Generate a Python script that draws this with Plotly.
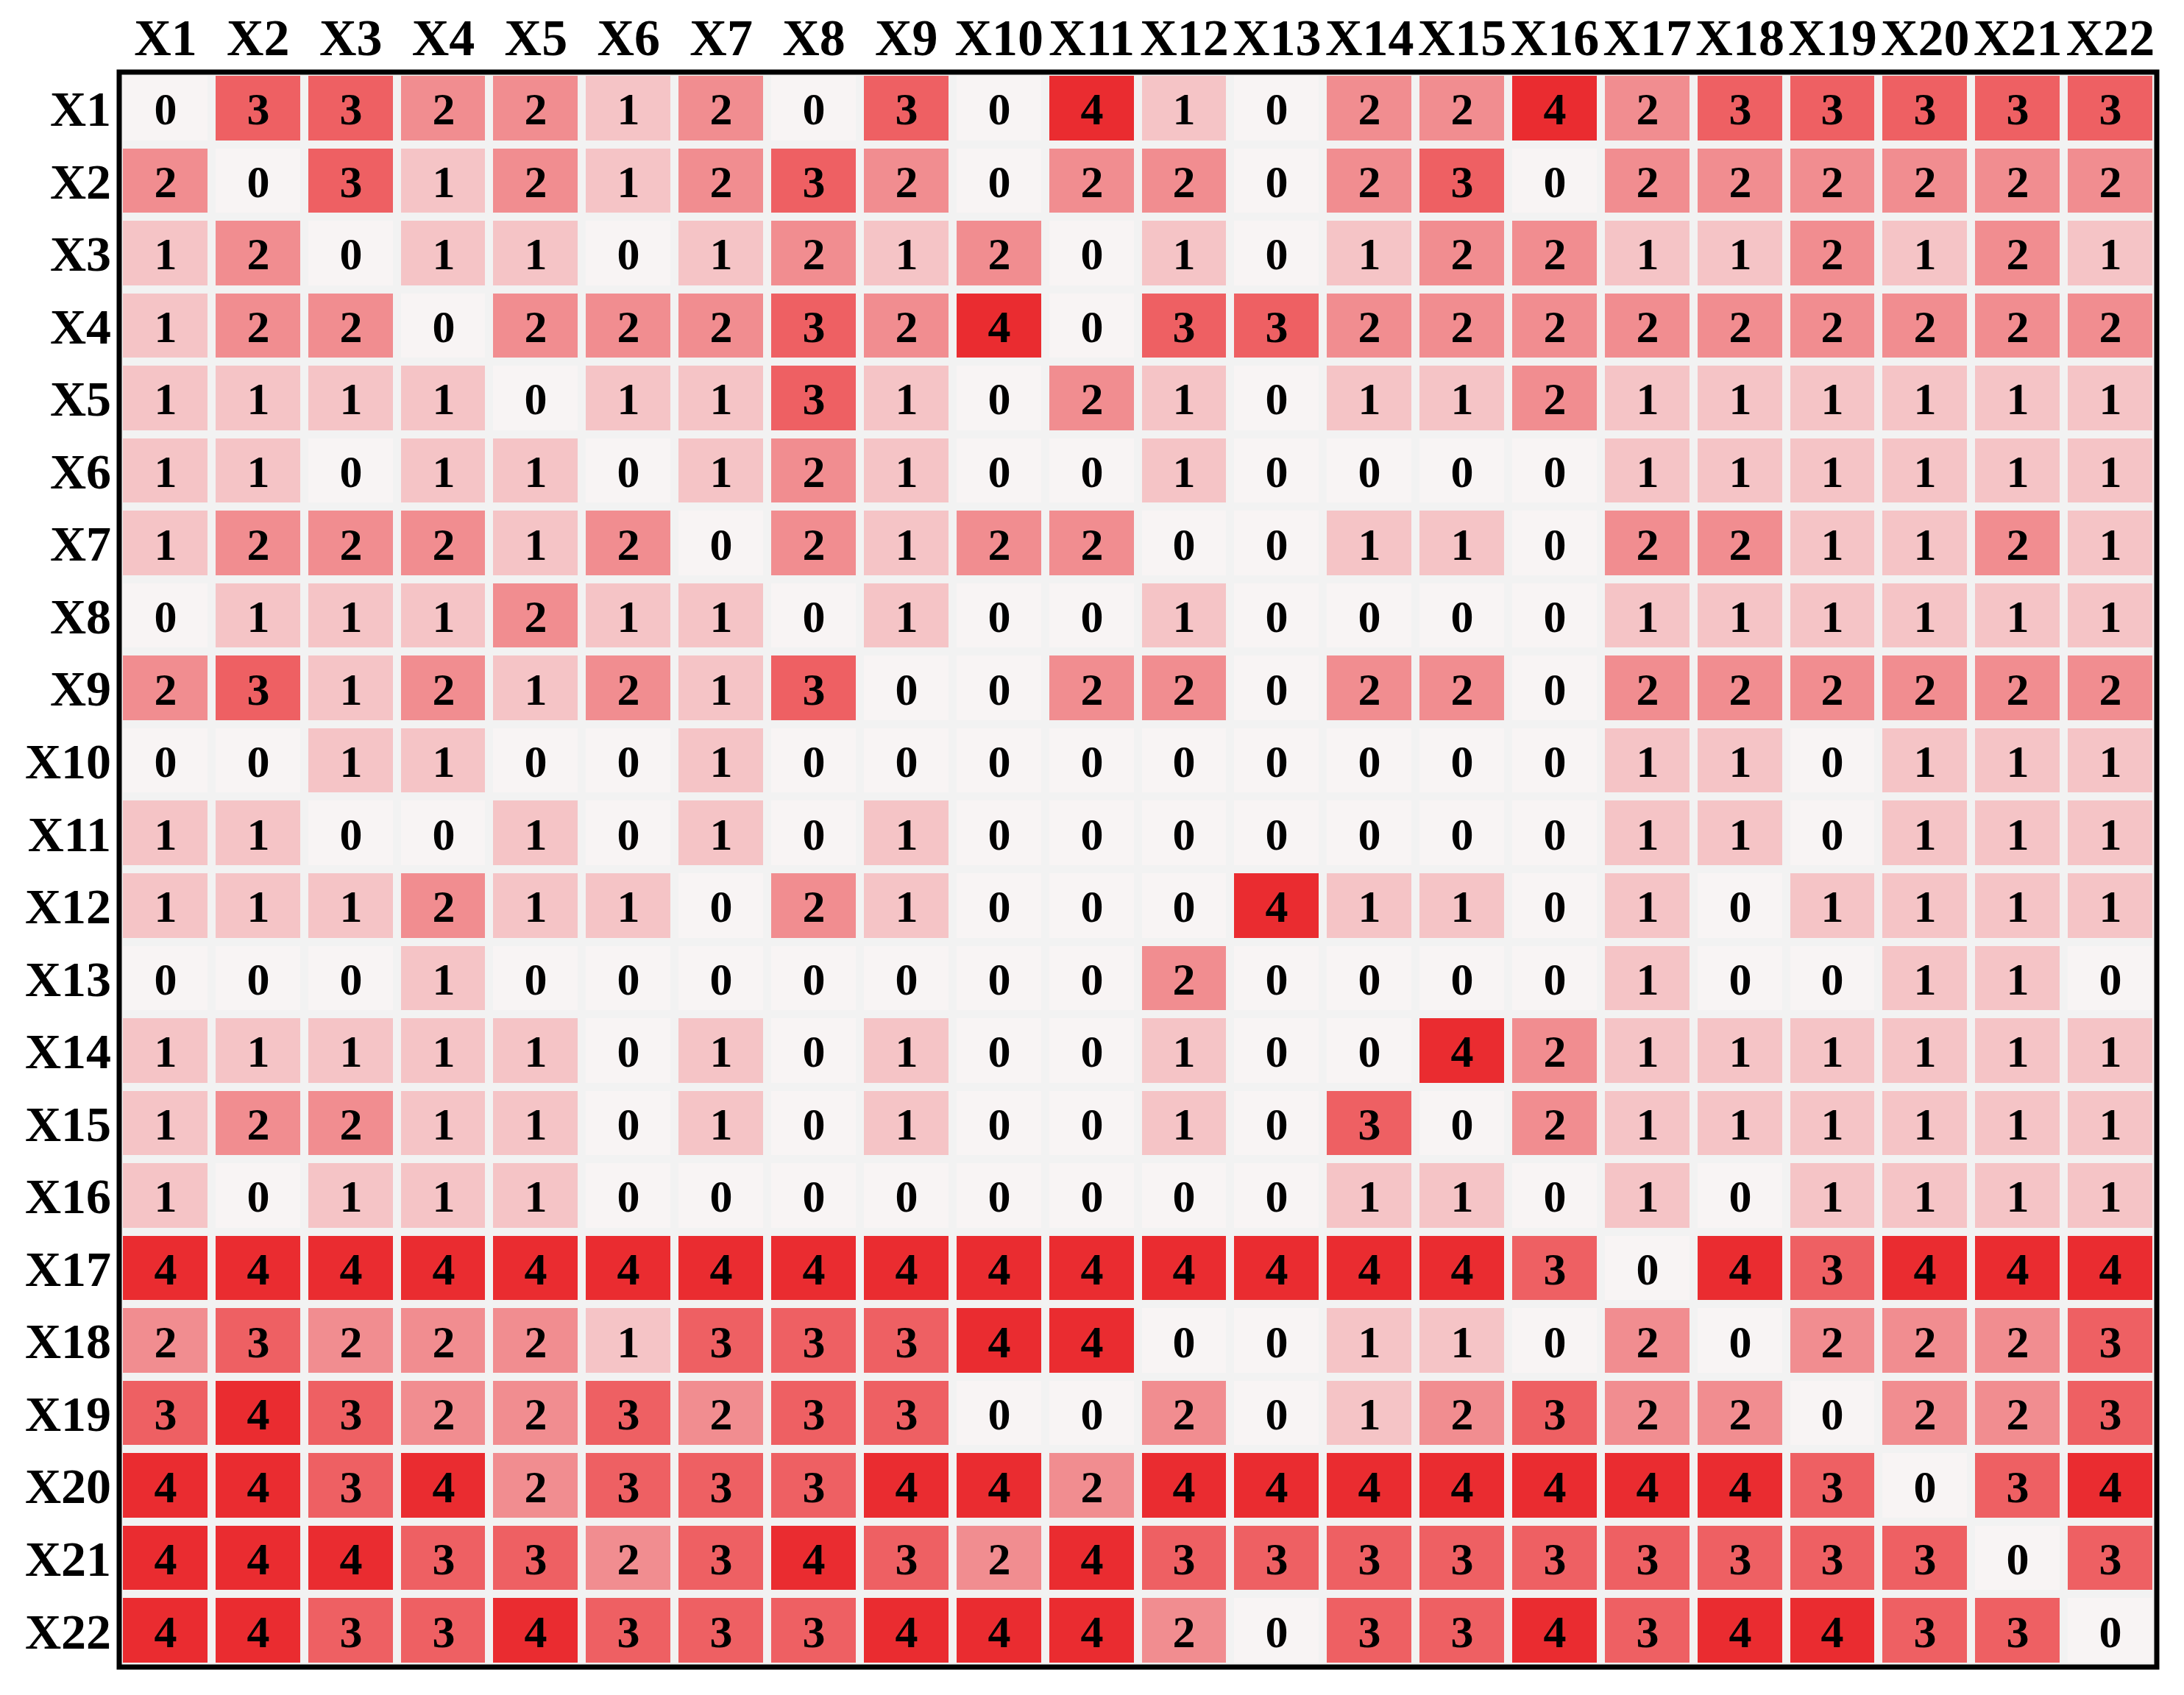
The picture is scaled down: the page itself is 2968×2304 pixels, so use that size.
import plotly.graph_objects as go

labels = ["X%d" % i for i in range(1, 23)]

# influence matrix, rows = X1..X22, columns = X1..X22
row_x1 = [0, 3, 3, 2, 2, 1, 2, 0, 3, 0, 4, 1, 0, 2, 2, 4, 2, 3, 3, 3, 3, 3]
row_x2 = [2, 0, 3, 1, 2, 1, 2, 3, 2, 0, 2, 2, 0, 2, 3, 0, 2, 2, 2, 2, 2, 2]
row_x3 = [1, 2, 0, 1, 1, 0, 1, 2, 1, 2, 0, 1, 0, 1, 2, 2, 1, 1, 2, 1, 2, 1]
row_x4 = [1, 2, 2, 0, 2, 2, 2, 3, 2, 4, 0, 3, 3, 2, 2, 2, 2, 2, 2, 2, 2, 2]
row_x5 = [1, 1, 1, 1, 0, 1, 1, 3, 1, 0, 2, 1, 0, 1, 1, 2, 1, 1, 1, 1, 1, 1]
row_x6 = [1, 1, 0, 1, 1, 0, 1, 2, 1, 0, 0, 1, 0, 0, 0, 0, 1, 1, 1, 1, 1, 1]
row_x7 = [1, 2, 2, 2, 1, 2, 0, 2, 1, 2, 2, 0, 0, 1, 1, 0, 2, 2, 1, 1, 2, 1]
row_x8 = [0, 1, 1, 1, 2, 1, 1, 0, 1, 0, 0, 1, 0, 0, 0, 0, 1, 1, 1, 1, 1, 1]
row_x9 = [2, 3, 1, 2, 1, 2, 1, 3, 0, 0, 2, 2, 0, 2, 2, 0, 2, 2, 2, 2, 2, 2]
row_x10 = [0, 0, 1, 1, 0, 0, 1, 0, 0, 0, 0, 0, 0, 0, 0, 0, 1, 1, 0, 1, 1, 1]
row_x11 = [1, 1, 0, 0, 1, 0, 1, 0, 1, 0, 0, 0, 0, 0, 0, 0, 1, 1, 0, 1, 1, 1]
row_x12 = [1, 1, 1, 2, 1, 1, 0, 2, 1, 0, 0, 0, 4, 1, 1, 0, 1, 0, 1, 1, 1, 1]
row_x13 = [0, 0, 0, 1, 0, 0, 0, 0, 0, 0, 0, 2, 0, 0, 0, 0, 1, 0, 0, 1, 1, 0]
row_x14 = [1, 1, 1, 1, 1, 0, 1, 0, 1, 0, 0, 1, 0, 0, 4, 2, 1, 1, 1, 1, 1, 1]
row_x15 = [1, 2, 2, 1, 1, 0, 1, 0, 1, 0, 0, 1, 0, 3, 0, 2, 1, 1, 1, 1, 1, 1]
row_x16 = [1, 0, 1, 1, 1, 0, 0, 0, 0, 0, 0, 0, 0, 1, 1, 0, 1, 0, 1, 1, 1, 1]
row_x17 = [4, 4, 4, 4, 4, 4, 4, 4, 4, 4, 4, 4, 4, 4, 4, 3, 0, 4, 3, 4, 4, 4]
row_x18 = [2, 3, 2, 2, 2, 1, 3, 3, 3, 4, 4, 0, 0, 1, 1, 0, 2, 0, 2, 2, 2, 3]
row_x19 = [3, 4, 3, 2, 2, 3, 2, 3, 3, 0, 0, 2, 0, 1, 2, 3, 2, 2, 0, 2, 2, 3]
row_x20 = [4, 4, 3, 4, 2, 3, 3, 3, 4, 4, 2, 4, 4, 4, 4, 4, 4, 4, 3, 0, 3, 4]
row_x21 = [4, 4, 4, 3, 3, 2, 3, 4, 3, 2, 4, 3, 3, 3, 3, 3, 3, 3, 3, 3, 0, 3]
row_x22 = [4, 4, 3, 3, 4, 3, 3, 3, 4, 4, 4, 2, 0, 3, 3, 4, 3, 4, 4, 3, 3, 0]

z = [row_x1, row_x2, row_x3, row_x4, row_x5, row_x6, row_x7, row_x8, row_x9,
     row_x10, row_x11, row_x12, row_x13, row_x14, row_x15, row_x16, row_x17,
     row_x18, row_x19, row_x20, row_x21, row_x22]

colors = ["#f8f4f4", "#f5c4c6", "#f18d90", "#ee6063", "#ea2c30"]
scale = [[i / 4, c] for i, c in enumerate(colors)]

serif = "Liberation Serif, Times New Roman, serif"

fig = go.Figure(go.Heatmap(
    z=z, x=labels, y=labels,
    zmin=0, zmax=4, colorscale=scale, showscale=False,
    xgap=11, ygap=11,
    texttemplate="%{z}",
    textfont=dict(family=serif, size=62, color="black", weight="bold"),
    hoverinfo="skip",
))

fig.update_xaxes(side="top", showgrid=False, zeroline=False, ticks="",
                 automargin=False,
                 tickfont=dict(family=serif, size=70, color="black", weight="bold"),
                 ticklabelstandoff=8)
fig.update_yaxes(autorange="reversed", showgrid=False, zeroline=False, ticks="",
                 automargin=False,
                 tickfont=dict(family=serif, size=68, color="black", weight="bold"),
                 ticklabelstandoff=10)

fig.add_shape(type="rect", xref="paper", yref="paper", x0=0, y0=0, x1=1, y1=1,
              line=dict(color="black", width=7))

# page body adds ~8px offset, so margins are shifted to compensate
fig.update_layout(
    width=2968, height=2304,
    margin=dict(l=154, r=45, t=90, b=46),
    paper_bgcolor="white", plot_bgcolor="#f2f2f2",
)

fig.write_html("out.html")
